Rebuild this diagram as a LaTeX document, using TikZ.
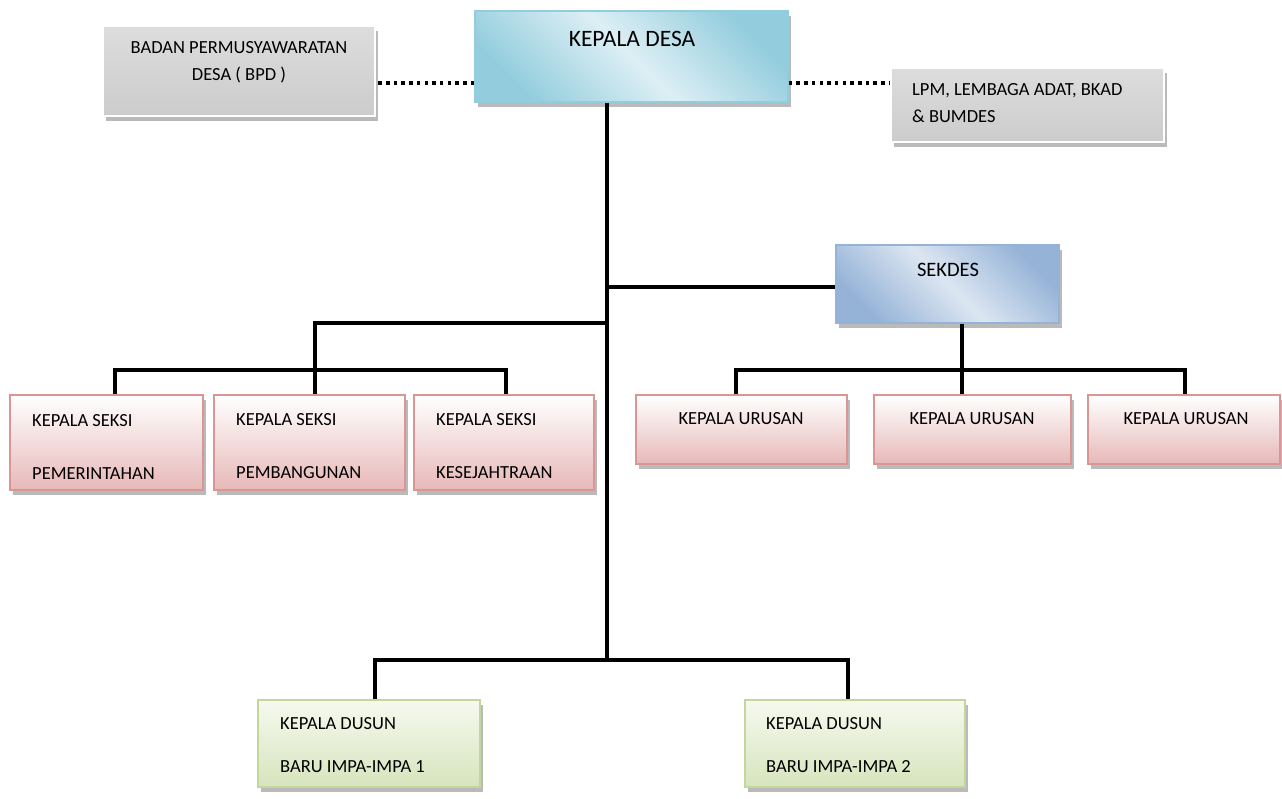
\documentclass[tikz,border=0pt]{standalone}
\usepackage{fontspec}
\setmainfont{Carlito}
\usetikzlibrary{positioning,shadows}

\definecolor{desaedge}{HTML}{93CDDD}
\definecolor{desalight}{HTML}{DDEFF5}
\definecolor{sekedge}{HTML}{95B3D7}
\definecolor{seklight}{HTML}{DCE6F2}
\definecolor{pinkedge}{HTML}{D99694}
\definecolor{pinkdark}{HTML}{E6B9B8}
\definecolor{greenedge}{HTML}{C3D69B}
\definecolor{greenlight}{HTML}{F6F9EF}
\definecolor{greendark}{HTML}{D7E4BD}

\tikzset{
  shadowed/.style={drop shadow={shadow xshift=3pt,shadow yshift=-5pt,fill=black!45,opacity=.6}},
  graybox/.style={rectangle,inner sep=0pt,draw=white,line width=2.5pt,top color=gray!27,bottom color=gray!40,shadowed},
  desabox/.style={rectangle,inner sep=0pt,draw=desaedge,line width=1.5pt,left color=desaedge,right color=desaedge,middle color=desalight,shading angle=135,shadowed},
  sekbox/.style={rectangle,inner sep=0pt,draw=sekedge,line width=1.5pt,left color=sekedge,right color=sekedge,middle color=seklight,shading angle=135,shadowed},
  pinkbox/.style={rectangle,inner sep=0pt,draw=pinkedge,line width=2pt,top color=white,bottom color=pinkdark,shadowed},
  greenbox/.style={rectangle,inner sep=0pt,draw=greenedge,line width=2pt,top color=greenlight,bottom color=greendark,shadowed},
  orgline/.style={line width=4pt},
  dotline/.style={line width=3.5pt,dash pattern=on 3.5pt off 4.2pt},
  lbl/.style={inner sep=0pt,font=\fontsize{18.5}{22}\selectfont},
}

\begin{document}
\begin{tikzpicture}[x=1pt,y=-1pt]
\useasboundingbox (0,0) rectangle (1282,798);

% top row
\node[graybox,minimum width=272pt,minimum height=90pt] (bpd) at (239,71) {};
\node[desabox,minimum width=313pt,minimum height=91pt] (desa) at (631.5,56.5) {};
\node[graybox,minimum width=273pt,minimum height=74pt] (lpm) at (1027.5,105) {};
\node[sekbox,minimum width=223pt,minimum height=78pt] (sekdes) at (947.5,284) {};

% kepala seksi
\node[pinkbox,minimum width=193pt,minimum height=95pt] (seksi1) at (106.5,442.5) {};
\node[pinkbox,minimum width=191pt,minimum height=95pt] (seksi2) at (309.5,442.5) {};
\node[pinkbox,minimum width=180pt,minimum height=95pt] (seksi3) at (504,442.5) {};

% kepala urusan
\node[pinkbox,minimum width=211pt,minimum height=69pt] (urusan1) at (741.5,429.5) {};
\node[pinkbox,minimum width=197pt,minimum height=69pt] (urusan2) at (972.5,429.5) {};
\node[pinkbox,minimum width=192pt,minimum height=69pt] (urusan3) at (1184,429.5) {};

% kepala dusun
\node[greenbox,minimum width=222pt,minimum height=87pt] (dusun1) at (369,743.5) {};
\node[greenbox,minimum width=220pt,minimum height=87pt] (dusun2) at (855,743.5) {};

% texts
\node[lbl,font=\fontsize{23.5}{28}\selectfont] (desa-txt) at (632,39) {KEPALA DESA};
\node[lbl,align=center] (bpd-txt) at (239,62.5) {BADAN PERMUSYAWARATAN\\[5pt]DESA ( BPD )};
\node[lbl,align=left,anchor=west] (lpm-txt) at (912,103.5) {LPM, LEMBAGA ADAT, BKAD\\[5pt]\& BUMDES};
\node[lbl,font=\fontsize{20.5}{24}\selectfont] (sekdes-txt) at (948,270) {SEKDES};
\node[lbl] (urusan1-txt) at (741,419) {KEPALA URUSAN};
\node[lbl] (urusan2-txt) at (972,419) {KEPALA URUSAN};
\node[lbl] (urusan3-txt) at (1186,419) {KEPALA URUSAN};
\node[lbl,align=left,anchor=west] (seksi1-txt) at (32,446.5) {KEPALA SEKSI\\[31pt]PEMERINTAHAN};
\node[lbl,align=left,anchor=west] (seksi2-txt) at (236,446.5) {KEPALA SEKSI\\[31pt]PEMBANGUNAN};
\node[lbl,align=left,anchor=west] (seksi3-txt) at (436,446.5) {KEPALA SEKSI\\[31pt]KESEJAHTRAAN};
\node[lbl,align=left,anchor=west] (dusun1-txt) at (280,745.5) {KEPALA DUSUN\\[21pt]BARU IMPA-IMPA 1};
\node[lbl,align=left,anchor=west] (dusun2-txt) at (766,745.5) {KEPALA DUSUN\\[21pt]BARU IMPA-IMPA 2};

% junctions
\coordinate (jsek) at (607,287);
\coordinate (jseksi) at (607,323);
\coordinate (jdusun) at (607,660);
\coordinate (barseksi) at (315,370);
\coordinate (barurusan) at (962,370);

% connectors
\draw[orgline] (desa.south -| jdusun) -- (jdusun);
\draw[orgline] (jsek) -- (jsek -| sekdes.west);
\draw[orgline] (jseksi) -| ([xshift=5.5pt]seksi2.north);
\draw[orgline] ([xshift=8.5pt]seksi1.north) |- (barseksi) -| ([xshift=2pt]seksi3.north);
\draw[orgline] ([xshift=14.5pt]sekdes.south) -- ([xshift=-10.5pt]urusan2.north);
\draw[orgline] ([xshift=-5.5pt]urusan1.north) |- (barurusan) -| ([xshift=1pt]urusan3.north);
\draw[orgline] ([xshift=6pt]dusun1.north) |- (jdusun) -| ([xshift=-7pt]dusun2.north);

% dotted links
\coordinate (dotl) at ([yshift=-26.5pt]desa.west);
\coordinate (dotr) at ([yshift=-26.5pt]desa.east);
\draw[dotline] (dotl) -- (dotl -| bpd.east);
\draw[dotline] (dotr) -- (dotr -| lpm.west);
\end{tikzpicture}
\end{document}
